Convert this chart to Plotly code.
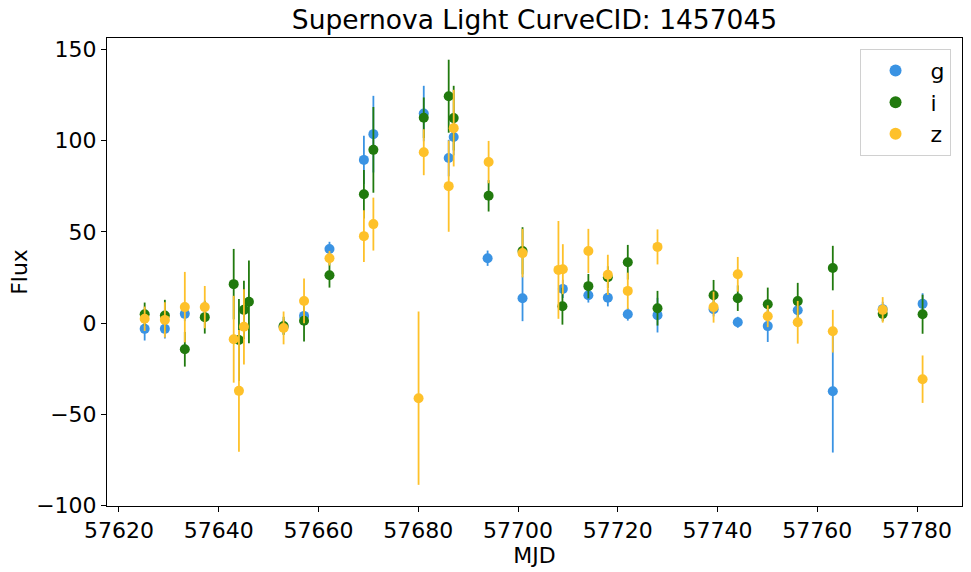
import plotly.graph_objects as go

# ---- data ----
g_mjd = [57625.15, 57629.2, 57633.2, 57653.0, 57657.1, 57662.2, 57669.1, 57671.0, 57681.1, 57686.1,
         57687.1, 57693.9, 57700.9, 57708.98, 57714.1, 57718.0, 57722.0, 57727.96, 57739.2, 57744.05,
         57750.06, 57756.07, 57763.1, 57773.1, 57781.1]
g_flux = [-3.1, -3.1, 5.1, -2.0, 4.0, 40.7, 89.5, 103.6, 114.9, 90.5,
          102.0, 35.6, 13.7, 18.8, 15.3, 13.9, 4.9, 4.4, 7.7, 0.5,
          -1.6, 7.1, -37.3, 7.7, 10.6]
g_err = [6.4, 5.3, 4.0, 4.0, 4.0, 3.9, 13.2, 21.0, 15.2, 10.0,
         10.0, 4.2, 12.6, 5.0, 4.0, 4.7, 3.5, 9.5, 4.0, 3.0,
         8.7, 4.0, 33.6, 4.0, 5.8]

i_mjd = [57625.15, 57629.2, 57633.2, 57637.2, 57643.0, 57644.05, 57645.05, 57646.05, 57653.0, 57657.1,
         57662.2, 57669.1, 57671.0, 57681.1, 57686.1, 57687.1, 57694.1, 57700.9, 57708.9, 57714.1,
         57718.0, 57722.0, 57727.96, 57739.2, 57744.05, 57750.06, 57756.07, 57763.1, 57773.1, 57781.1]
i_flux = [4.9, 4.2, -14.3, 3.3, 21.4, -9.2, 7.3, 11.7, -1.5, 1.3,
          26.3, 70.7, 95.0, 112.6, 124.4, 112.4, 69.8, 39.6, 9.3, 20.3,
          25.2, 33.4, 8.2, 15.3, 13.7, 10.4, 12.1, 30.2, 5.1, 4.9]
i_err = [6.4, 8.6, 9.5, 9.0, 19.3, 22.5, 16.0, 22.7, 5.0, 11.3,
         6.8, 13.3, 23.5, 11.1, 20.0, 17.7, 8.6, 13.0, 10.1, 6.7,
         6.0, 9.5, 9.5, 8.4, 7.0, 9.1, 10.0, 12.2, 4.0, 10.7]

z_mjd = [57625.15, 57629.2, 57633.2, 57637.2, 57643.0, 57644.05, 57645.05, 57653.0, 57657.1, 57662.2,
         57669.1, 57671.0, 57680.06, 57681.1, 57686.1, 57687.1, 57694.1, 57700.9, 57708.1, 57708.98,
         57714.1, 57718.0, 57722.0, 57727.96, 57739.2, 57744.05, 57750.06, 57756.07, 57763.1, 57773.1,
         57781.1]
z_flux = [2.4, 1.8, 8.8, 8.8, -8.8, -37.1, -2.0, -2.6, 12.2, 35.6,
          47.7, 54.3, -41.1, 93.7, 75.1, 106.9, 88.3, 38.4, 29.2, 29.6,
          39.6, 26.5, 17.7, 41.8, 8.8, 26.8, 3.8, 0.5, -4.4, 7.3,
          -30.7]
z_err = [6.7, 9.7, 19.3, 11.6, 23.8, 33.3, 20.6, 9.0, 12.3, 4.0,
         14.2, 14.5, 47.5, 12.6, 25.0, 21.0, 11.6, 13.3, 26.8, 13.7,
         12.1, 11.0, 10.0, 9.6, 8.5, 9.5, 6.0, 11.7, 11.7, 7.0,
         13.0]

bands = ["g", "i", "z"]
colors = {"g": "#3a93e3", "i": "#217a0e", "z": "#fec12a"}
series = {"g": (g_mjd, g_flux, g_err), "i": (i_mjd, i_flux, i_err), "z": (z_mjd, z_flux, z_err)}

FONT = "DejaVu Sans"
BASE = 22
fig = go.Figure()
for b in bands:
    x, y, e = series[b]
    fig.add_trace(go.Scatter(
        x=x, y=y, mode="markers", name=b,
        marker=dict(color=colors[b], size=10, line=dict(width=0)),
        error_y=dict(type="data", array=e, symmetric=True, color=colors[b], thickness=1.8, width=0),
    ))

fig.update_layout(
    width=971, height=572,
    margin=dict(l=107, r=9, t=38, b=66),
    paper_bgcolor="white", plot_bgcolor="white",
    font=dict(family=FONT, size=BASE, color="black"),
    title=dict(text="Supernova Light CurveCID: 1457045", x=(107 + 962) / 2 / 971, xanchor="center",
               y=1 - 20 / 572, yanchor="middle", font=dict(size=26.5, family=FONT)),
    showlegend=True,
    legend=dict(x=0.9866, xanchor="right", y=0.977, yanchor="top",
                bgcolor="rgba(255,255,255,0.8)", bordercolor="#d0d0d0", borderwidth=1,
                font=dict(size=BASE, family=FONT), itemsizing="constant", itemwidth=60,
                tracegroupgap=0),
    xaxis=dict(range=[57617.6, 57789.0], tickmode="linear", tick0=57620, dtick=20, tickformat="d",
               showgrid=False, zeroline=False, showline=True, mirror=True,
               linecolor="black", linewidth=1, ticks="outside", ticklen=5, tickwidth=1,
               tickcolor="black", tickfont=dict(size=BASE),
               title=dict(text="MJD", font=dict(size=BASE), standoff=3)),
    yaxis=dict(range=[-100.2, 156.3], tickmode="linear", tick0=0, dtick=50,
               showgrid=False, zeroline=False, showline=True, mirror=True,
               linecolor="black", linewidth=1, ticks="outside", ticklen=5, tickwidth=1,
               tickcolor="black", tickfont=dict(size=BASE),
               title=dict(text="Flux", font=dict(size=BASE), standoff=2)),
)

fig.write_html("out.html")
